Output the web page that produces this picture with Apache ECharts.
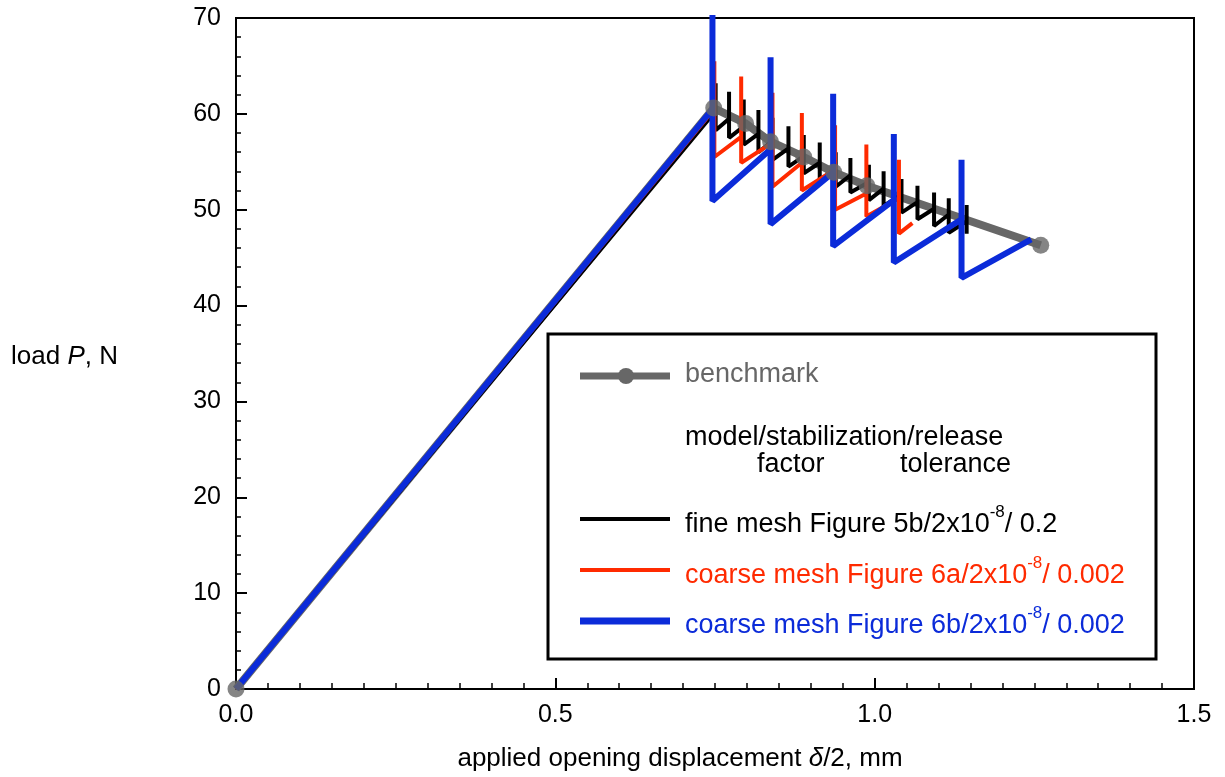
<!DOCTYPE html>
<html>
<head>
<meta charset="utf-8">
<script src="https://cdn.jsdelivr.net/npm/echarts@6/dist/echarts.min.js"></script>
<style>
html,body{margin:0;padding:0;background:#fff;}
#chart{width:1225px;height:777px;}
</style>
</head>
<body>
<div id="chart"></div>
<script>
// ---- data ----
const xTicks = [0.0, 0.5, 1.0, 1.5];
const yTicks = [0, 10, 20, 30, 40, 50, 60, 70];

const benchX = [0, 0.748, 0.798, 0.837, 0.889, 0.936, 0.988, 1.260];
const benchY = [0, 60.6, 59.0, 57.1, 55.5, 53.9, 52.5, 46.3];

const fineX = [0, 0.751, 0.751, 0.751, 0.772, 0.772, 0.772, 0.795, 0.795, 0.795,
  0.818, 0.818, 0.818, 0.840, 0.840, 0.840, 0.865, 0.865, 0.865, 0.889, 0.889, 0.889,
  0.914, 0.914, 0.914, 0.939, 0.939, 0.939, 0.962, 0.962, 0.962, 0.991, 0.991, 0.991,
  1.014, 1.014, 1.014, 1.042, 1.042, 1.042, 1.067, 1.067, 1.067, 1.093, 1.093, 1.093,
  1.116, 1.116, 1.116, 1.144, 1.144, 1.144];
const fineY = [0, 60.3, 63.2, 58.3, 59.5, 62.3, 57.5, 58.7, 61.5, 56.8,
  57.9, 60.4, 56.0, 57.2, 59.6, 55.2, 56.4, 58.7, 54.5, 55.6, 57.8, 53.8,
  54.9, 57.0, 53.1, 54.3, 56.0, 52.4, 53.6, 55.4, 51.8, 52.9, 54.7, 51.0,
  52.2, 54.0, 50.4, 51.6, 53.2, 49.7, 50.8, 52.5, 49.0, 50.1, 51.8, 48.3,
  49.5, 51.2, 47.6, 48.8, 50.5, 47.5];

const coarseAX = [0, 0.749, 0.749, 0.749, 0.791, 0.791, 0.791, 0.840, 0.840, 0.840,
  0.886, 0.886, 0.886, 0.938, 0.938, 0.938, 0.987, 0.987, 0.987, 1.038, 1.038, 1.038, 1.059];
const coarseAY = [0, 60.5, 65.5, 55.5, 57.6, 63.9, 54.9, 57.0, 62.2, 52.4,
  54.9, 60.1, 52.0, 54.2, 58.8, 50.0, 51.7, 56.8, 49.3, 51.2, 55.2, 47.5, 48.6];

const coarseBX = [0, 0.746, 0.746, 0.746, 0.837, 0.837, 0.837, 0.935, 0.935, 0.935,
  1.030, 1.030, 1.030, 1.136, 1.136, 1.136, 1.245];
const coarseBY = [0, 60.5, 72.0, 50.9, 56.3, 65.9, 48.5, 53.9, 62.1, 46.2,
  51.0, 57.9, 44.5, 49.0, 55.2, 42.9, 46.9];

const legendNames = ['benchmark', 'fine mesh Figure 5b/2x10', 'coarse mesh Figure 6a/2x10', 'coarse mesh Figure 6b/2x10'];
const legendTails = ['', '/ 0.2', '/ 0.002', '/ 0.002'];

const GRAY = '#676767', BLACK = '#000000', RED = '#ff2a00', BLUE = '#0b2bd9';
const FONT = '"Liberation Sans", Arial, Helvetica, sans-serif';
const LFS = 27;

function zip(xs, ys) { return xs.map((x, i) => [x, ys[i]]); }

const chart = echarts.init(document.getElementById('chart'), null, {renderer: 'canvas'});

function legendText(i, color, y) {
  return {
    type: 'text', left: 685, top: y - 17, z: 102,
    style: {
      text: '{a|' + legendNames[i] + '}{s|-8}{a|' + legendTails[i] + '}',
      fontFamily: FONT, fill: color,
      rich: {
        a: {fontSize: LFS, fontFamily: FONT, color: color, verticalAlign: 'bottom', lineHeight: 34},
        s: {fontSize: 17, fontFamily: FONT, color: color, verticalAlign: 'top', lineHeight: 34}
      }
    }
  };
}

const option = {
  animation: false,
  backgroundColor: '#ffffff',
  grid: {left: 236, top: 18, width: 958, height: 672, show: true, borderColor: '#000', borderWidth: 2, containLabel: false},
  xAxis: {
    type: 'value', min: 0, max: 1.5, interval: 0.5,
    name: '{n|applied opening displacement }{i|δ}{n|/2, mm}',
    nameLocation: 'middle', nameGap: 57,
    nameTextStyle: {
      padding: [0, 70, 0, 0],
      rich: {
        n: {fontSize: 26, fontFamily: FONT, color: '#000'},
        i: {fontSize: 26, fontFamily: FONT, color: '#000', fontStyle: 'italic'}
      }
    },
    axisLine: {show: true, onZero: false, lineStyle: {color: '#000', width: 2}},
    axisTick: {show: true, inside: true, length: 11, lineStyle: {color: '#000', width: 2}},
    minorTick: {show: true, splitNumber: 10, length: 6, lineStyle: {color: '#000', width: 1.5}},
    splitLine: {show: false},
    axisLabel: {
      fontSize: 25, fontFamily: FONT, color: '#000', margin: 14,
      formatter: v => (xTicks.indexOf(v) >= 0 ? v.toFixed(1) : '')
    }
  },
  yAxis: {
    type: 'value', min: 0, max: 70, interval: 10,
    name: '{n|load }{i|P}{n|, N}',
    nameLocation: 'middle', nameRotate: 0, nameGap: 118,
    nameTextStyle: {
      padding: [6, 0, 0, 0],
      rich: {
        n: {fontSize: 26, fontFamily: FONT, color: '#000'},
        i: {fontSize: 26, fontFamily: FONT, color: '#000', fontStyle: 'italic'}
      }
    },
    axisLine: {show: true, onZero: false, lineStyle: {color: '#000', width: 2}},
    axisTick: {show: true, inside: true, length: 11, lineStyle: {color: '#000', width: 2}},
    minorTick: {show: true, splitNumber: 5, length: 5, lineStyle: {color: '#000', width: 1.5}},
    splitLine: {show: false},
    axisLabel: {
      fontSize: 25, fontFamily: FONT, color: '#000', margin: 15,
      formatter: v => (yTicks.indexOf(v) >= 0 ? String(v) : '')
    }
  },
  series: [
    {name: 'benchmark', type: 'line', data: zip(benchX, benchY), symbol: 'none',
     lineStyle: {color: GRAY, width: 8}, z: 2, clip: true},
    {name: 'fine', type: 'line', data: zip(fineX, fineY), symbol: 'none',
     lineStyle: {color: BLACK, width: 4}, z: 3, clip: true},
    {name: 'coarseA', type: 'line', data: zip(coarseAX, coarseAY), symbol: 'none',
     lineStyle: {color: RED, width: 4}, z: 4, clip: true},
    {name: 'coarseB', type: 'line', data: zip(coarseBX, coarseBY), symbol: 'none',
     lineStyle: {color: BLUE, width: 6}, z: 5, clip: true},
    {name: 'benchmarkPts', type: 'scatter', data: zip(benchX, benchY), symbol: 'circle',
     symbolSize: 17, itemStyle: {color: GRAY}, z: 6, clip: false}
  ],
  graphic: [
    {type: 'rect', z: 100, shape: {x: 548, y: 334, width: 608, height: 325},
     style: {fill: '#fff', stroke: '#000', lineWidth: 3}},
    {type: 'line', z: 101, shape: {x1: 580, y1: 376, x2: 670, y2: 376}, style: {stroke: GRAY, lineWidth: 7}},
    {type: 'circle', z: 102, shape: {cx: 626, cy: 376, r: 8}, style: {fill: GRAY}},
    {type: 'text', z: 102, left: 685, top: 361, style: {text: legendNames[0], fontSize: LFS, fontFamily: FONT, fill: GRAY}},
    {type: 'text', z: 102, left: 685, top: 424, style: {text: 'model/stabilization/release', fontSize: LFS, fontFamily: FONT, fill: '#000'}},
    {type: 'text', z: 102, left: 757, top: 451, style: {text: 'factor', fontSize: LFS, fontFamily: FONT, fill: '#000'}},
    {type: 'text', z: 102, left: 900, top: 451, style: {text: 'tolerance', fontSize: LFS, fontFamily: FONT, fill: '#000'}},
    {type: 'line', z: 101, shape: {x1: 580, y1: 519, x2: 670, y2: 519}, style: {stroke: BLACK, lineWidth: 4}},
    legendText(1, '#000', 521),
    {type: 'line', z: 101, shape: {x1: 580, y1: 570, x2: 670, y2: 570}, style: {stroke: RED, lineWidth: 4}},
    legendText(2, RED, 572),
    {type: 'line', z: 101, shape: {x1: 580, y1: 621, x2: 670, y2: 621}, style: {stroke: BLUE, lineWidth: 7}},
    legendText(3, BLUE, 622)
  ]
};
chart.setOption(option);
</script>
</body>
</html>
